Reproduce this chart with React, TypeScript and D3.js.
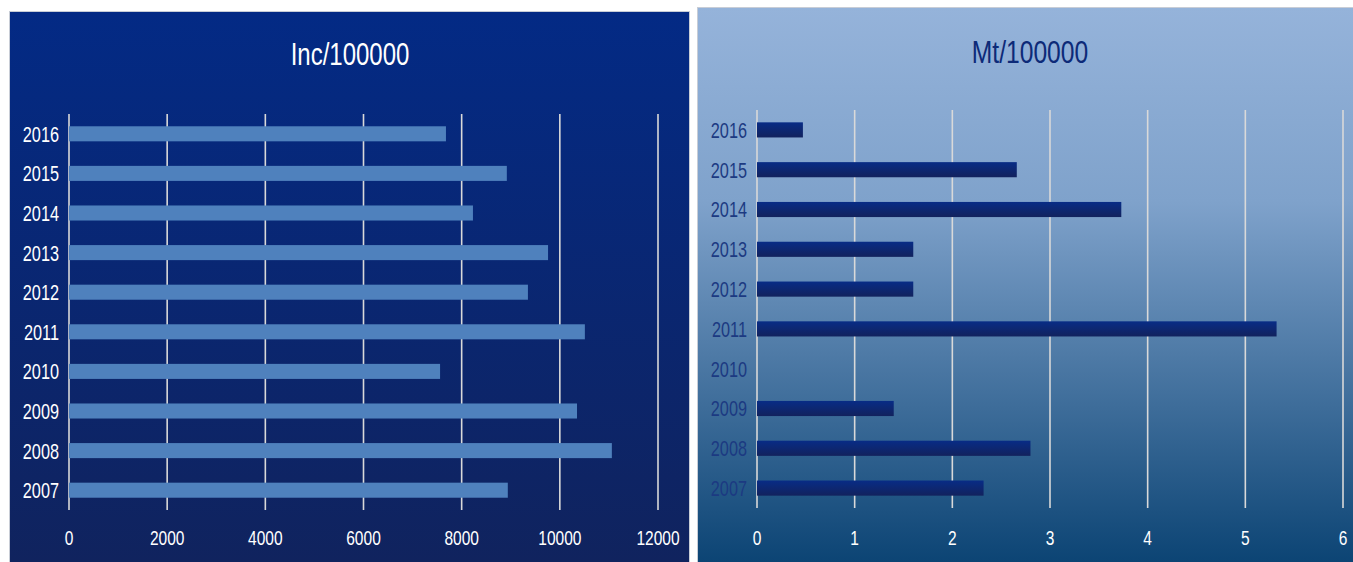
import React from "react";
import * as d3 from "d3";

const years = ["2016", "2015", "2014", "2013", "2012", "2011", "2010", "2009", "2008", "2007"];
const incValues = [7680, 8920, 8230, 9760, 9350, 10510, 7560, 10350, 11060, 8940];
const mtValues = [0.47, 2.66, 3.73, 1.6, 1.6, 5.32, 0, 1.4, 2.8, 2.32];
const incTicks = [0, 2000, 4000, 6000, 8000, 10000, 12000];
const mtTicks = [0, 1, 2, 3, 4, 5, 6];

const FONT = "'Liberation Sans', Arial, sans-serif";

function NText(props: { x: number; y: number; sx: number; size: number; fill: string; anchor: string; dy?: string; children: React.ReactNode }) {
  return (
    <text transform={`translate(${props.x},${props.y}) scale(${props.sx},1)`} dy={props.dy}
      textAnchor={props.anchor} fontFamily={FONT} fontSize={props.size} fill={props.fill}>
      {props.children}
    </text>
  );
}

type PanelProps = {
  x0: number; y0: number; w: number; h: number;
  title: string; titleColor: string; titleX: number; titleY: number; titleSx: number;
  values: number[]; ticks: number[]; max: number;
  plotLeft: number; plotRight: number; plotTop: number; plotBottom: number;
  bgId: string; barFill: string; catColor: string; tickColor: string;
};

function Panel(p: PanelProps) {
  const x = d3.scaleLinear().domain([0, p.max]).range([p.plotLeft, p.plotRight]);
  const y = d3.scaleBand<string>().domain(years).range([p.plotTop, p.plotBottom]).paddingInner(0.62).paddingOuter(0.31);
  return (
    <g>
      <rect x={p.x0} y={p.y0} width={p.w} height={p.h} fill={`url(#${p.bgId})`} />
      <NText x={p.titleX} y={p.titleY} sx={p.titleSx} size={32} fill={p.titleColor} anchor="middle">{p.title}</NText>
      {p.ticks.map((t) => (
        <line key={"g" + t} x1={x(t)} x2={x(t)} y1={p.plotTop} y2={p.plotBottom} stroke="#d9d9d9" strokeWidth={1.6} />
      ))}
      {years.map((yr, i) => (
        <rect key={"b" + yr} x={x(0)} y={y(yr)!} width={Math.max(0, x(p.values[i]) - x(0))} height={y.bandwidth()} fill={p.barFill} />
      ))}
      {years.map((yr) => (
        <NText key={"c" + yr} x={p.plotLeft - 10} y={y(yr)! + y.bandwidth() / 2} dy="0.36em" sx={0.74} size={22} fill={p.catColor} anchor="end">{yr}</NText>
      ))}
      {p.ticks.map((t) => (
        <NText key={"t" + t} x={x(t)} y={537} dy="0.36em" sx={0.74} size={21} fill={p.tickColor} anchor="middle">{t}</NText>
      ))}
    </g>
  );
}

export default function App() {
  return (
    <svg width={1353} height={562} style={{ position: "fixed", left: 0, top: 0, display: "block", background: "#ffffff" }}>
      <defs>
        <linearGradient id="bgL" x1="0" y1="0" x2="0" y2="1">
          <stop offset="0" stopColor="#032a85" />
          <stop offset="1" stopColor="#10235e" />
        </linearGradient>
        <linearGradient id="bgR" x1="0" y1="0" x2="0" y2="1">
          <stop offset="0" stopColor="#95b3da" />
          <stop offset="0.35" stopColor="#7fa2cb" />
          <stop offset="1" stopColor="#0c4474" />
        </linearGradient>
        <linearGradient id="barR" x1="0" y1="0" x2="0" y2="1">
          <stop offset="0" stopColor="#082c86" />
          <stop offset="1" stopColor="#12225d" />
        </linearGradient>
      </defs>
      <rect x={9} y={11} width={681} height={551} fill="#c8cdd6" />
      <Panel x0={10} y0={12} w={679} h={550} title="Inc/100000" titleColor="#ffffff" titleX={350} titleY={65} titleSx={0.75}
        values={incValues} ticks={incTicks} max={12000}
        plotLeft={69} plotRight={658} plotTop={114} plotBottom={510}
        bgId="bgL" barFill="#4f81bd" catColor="#ffffff" tickColor="#ffffff" />
      <rect x={697} y={7} width={656} height={555} fill="#c8cdd6" />
      <Panel x0={698} y0={8} w={655} h={554} title="Mt/100000" titleColor="#0d2a78" titleX={1030} titleY={63} titleSx={0.77}
        values={mtValues} ticks={mtTicks} max={6}
        plotLeft={757} plotRight={1343} plotTop={110} plotBottom={508}
        bgId="bgR" barFill="url(#barR)" catColor="#1c3a82" tickColor="#ffffff" />
    </svg>
  );
}
